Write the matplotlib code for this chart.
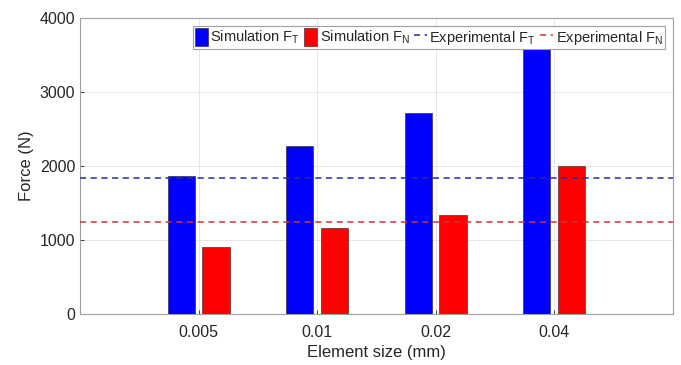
import matplotlib
matplotlib.use("Agg")
import matplotlib.pyplot as plt
import numpy as np

plt.rcParams['font.family'] = ['Liberation Sans', 'DejaVu Sans']
plt.rcParams['mathtext.fontset'] = 'custom'
plt.rcParams['mathtext.rm'] = 'Liberation Sans'
plt.rcParams['mathtext.it'] = 'Liberation Sans:italic'

categories = ['0.005', '0.01', '0.02', '0.04']
sim_ft = [1860, 2275, 2720, 3600]
sim_fn = [910, 1158, 1345, 2005]
exp_ft = 1840
exp_fn = 1240

fig = plt.figure(figsize=(6.81, 3.65), dpi=100)
ax = fig.add_axes([0.1175, 0.139, 0.8705, 0.8117])

x = np.arange(1, len(categories) + 1)
w = 0.23
off = 0.147
b1 = ax.bar(x - off, sim_ft, w, color=(0, 0, 1), edgecolor='#303050', linewidth=0.5,
            label=r'Simulation F$_\mathrm{T}$', zorder=3)
b2 = ax.bar(x + off, sim_fn, w, color=(1, 0, 0), edgecolor='#503030', linewidth=0.5,
            label=r'Simulation F$_\mathrm{N}$', zorder=3)
l1 = ax.axhline(exp_ft, color='#2a2aa0', linestyle=(0, (4, 3)), linewidth=1.1,
                label=r'Experimental F$_\mathrm{T}$', zorder=4)
l2 = ax.axhline(exp_fn, color='#c83838', linestyle=(0, (4, 3)), linewidth=1.1,
                label=r'Experimental F$_\mathrm{N}$', zorder=4)

ax.set_xlim(0, 5)
ax.set_ylim(0, 4000)
ax.set_xticks(x)
ax.set_xticklabels(categories)
ax.set_yticks([0, 1000, 2000, 3000, 4000])
ax.grid(True, color='#e6e6e6', linewidth=0.7, zorder=0)
ax.set_axisbelow(True)
ax.tick_params(direction='in', length=3, colors='#262626', labelsize=11.5,
               width=0.6)
ax.tick_params(axis='x', pad=8)
for s in ax.spines.values():
    s.set_color('#a0a0a0')
    s.set_linewidth(0.8)
ax.set_xlabel('Element size (mm)', fontsize=12, color='#262626', labelpad=3)
ax.set_ylabel('Force (N)', fontsize=12, color='#262626', labelpad=4)

leg = ax.legend(handles=[b1, b2, l1, l2], loc='upper right', ncol=4, fontsize=10.5,
                frameon=True, fancybox=False, edgecolor='#a0a0a0', framealpha=1,
                handlelength=0.9, handleheight=1.5, handletextpad=0.15,
                columnspacing=0.3, borderpad=0.15, borderaxespad=0.55)
leg.get_frame().set_linewidth(0.8)
for t in leg.get_texts():
    t.set_color('#262626')

fig.savefig('out.png', dpi=100)
